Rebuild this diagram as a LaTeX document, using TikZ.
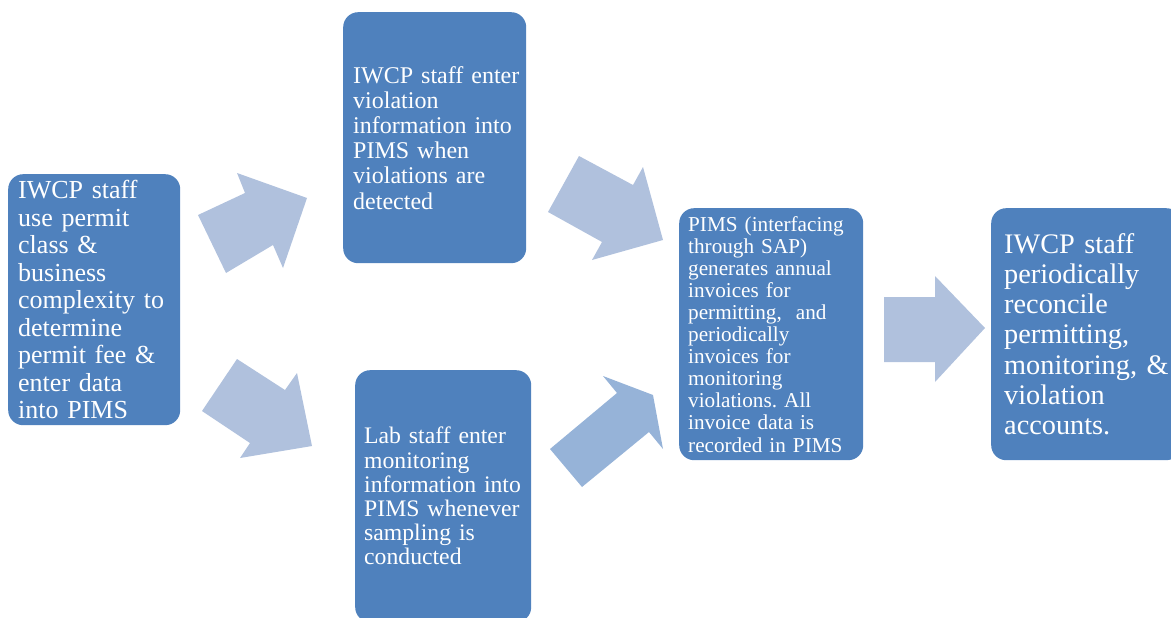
\documentclass[tikz,border=0pt]{standalone}
\usepackage{fontspec}
\setmainfont{Liberation Serif}
\usepackage{tikz}
\frenchspacing

\definecolor{boxblue}{HTML}{4F81BD}
\definecolor{arrowblue}{HTML}{B0C1DD}
\definecolor{arrowmid}{HTML}{96B3D8}

\tikzset{
  stepbox/.style={rectangle, rounded corners=15pt, fill=boxblue, text=white,
    inner xsep=0pt, inner ysep=0pt, anchor=north west,
    execute at begin node={\raggedright\leftskip=#1\relax}},
  stepbox/.default=10pt,
}

\begin{document}
\begin{tikzpicture}[x=1pt,y=-1pt]
\useasboundingbox (0,0) rectangle (1171,618);
\clip (0,0) rectangle (1171,618);

% process boxes
\node[stepbox, text width=172pt, minimum height=251pt,
  font=\fontsize{26pt}{27.5pt}\selectfont] (fee) at (8,174)
  {IWCP staff\\ use permit\\ class \&\\ business\\ complexity to\\ determine\\ permit fee \&\\ enter data\\ into PIMS};
\node[stepbox, text width=183pt, minimum height=251pt,
  font=\fontsize{24pt}{25.2pt}\selectfont] (viol) at (343,12)
  {IWCP staff enter\\ violation\\ information into\\ PIMS when\\ violations are\\ detected};
\node[stepbox=9pt, text width=176pt, minimum height=252pt,
  font=\fontsize{23.7pt}{24.2pt}\selectfont] (lab) at (355,370)
  {Lab staff enter\\ monitoring\\ information into\\ PIMS whenever\\ sampling is\\ conducted};
\node[stepbox=9pt, text width=184pt, minimum height=252pt,
  font=\fontsize{21.2pt}{22.1pt}\selectfont] (pims) at (679,208)
  {PIMS (interfacing\\ through SAP)\\ generates annual\\ invoices for\\ permitting, \ and\\ periodically\\ invoices for\\ monitoring\\ violations. All\\ invoice data is\\ recorded in PIMS};
\node[stepbox=13pt, text width=190pt, minimum height=252pt,
  font=\fontsize{28.3pt}{30.2pt}\selectfont] (recon) at (991,208)
  {IWCP staff\\ periodically\\ reconcile\\ permitting,\\ monitoring, \&\\ violation\\ accounts.};

% block arrows between the boxes
\fill[arrowblue] (198,215) -- (245,193) -- (237,173) -- (307,198) -- (283,268) -- (273,245) -- (226,273) -- cycle;
\fill[arrowblue] (202,411) -- (237,359) -- (285,390) -- (297,373) -- (312,446) -- (240,458) -- (250,443) -- cycle;
\fill[arrowblue] (548,212) -- (579,156) -- (633,185) -- (643,167) -- (663,240) -- (592,260) -- (602,242) -- cycle;
\fill[arrowmid] (550,449) -- (617,393) -- (603,376) -- (653,395) -- (663,449) -- (649,432) -- (582,487) -- cycle;
\fill[arrowblue] (884,297) -- (935,297) -- (935,276) -- (985,328) -- (935,382) -- (935,362) -- (884,362) -- cycle;
\end{tikzpicture}
\end{document}
